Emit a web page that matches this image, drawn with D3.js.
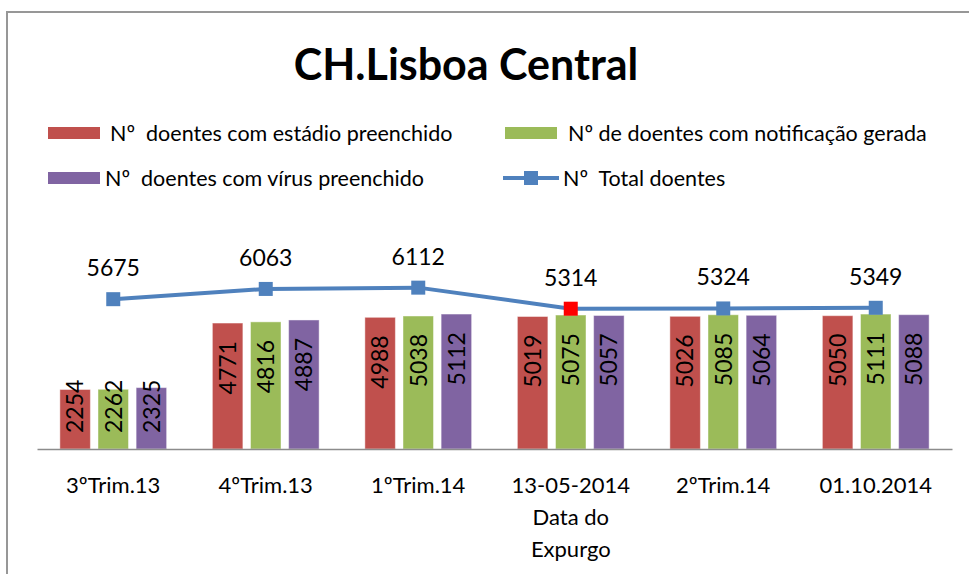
<!DOCTYPE html>
<html>
<head>
<meta charset="utf-8">
<script src="https://cdn.jsdelivr.net/npm/d3@7"></script>
<style>
	body { margin: 0; background: #fff; }
	svg text { font-family: Lato, "Liberation Sans", sans-serif; white-space: pre; }
</style>
</head>
<body>
<div id="chart"></div>
<script>
var categories = ["3ºTrim.13", "4ºTrim.13", "1ºTrim.14", "13-05-2014\nData do\nExpurgo", "2ºTrim.14", "01.10.2014"];
var estadio = [2254, 4771, 4988, 5019, 5026, 5050];
var notificacao = [2262, 4816, 5038, 5075, 5085, 5111];
var virus = [2325, 4887, 5112, 5057, 5064, 5088];
var total = [5675, 6063, 6112, 5314, 5324, 5349];
var highlight = "13-05-2014\nData do\nExpurgo";

var seriesNames = ["Nº  doentes com estádio preenchido", "Nº de doentes com notificação gerada", "Nº  doentes com vírus preenchido"];
var lineName = "Nº  Total doentes";
var seriesColors = ["#C0504D", "#9BBB59", "#8064A2"];
var lineColor = "#4F81BD";

var width = 969, height = 574;
var base = 449;

var svg = d3.select("#chart").append("svg")
	.attr("width", width)
	.attr("height", height);

// chart frame (cut off at right and bottom like the original)
svg.append("rect")
	.attr("x", 7)
	.attr("y", 12)
	.attr("width", 1000)
	.attr("height", 700)
	.attr("fill", "none")
	.attr("stroke", "#979797")
	.attr("stroke-width", 2);

svg.append("text")
	.attr("x", 466)
	.attr("y", 80)
	.attr("text-anchor", "middle")
	.style("font-size", "43px")
	.style("font-weight", "bold")
	.text("CH.Lisboa Central");

var x = d3.scaleBand().domain(categories).range([37, 952]);
var x1 = d3.scaleBand().domain([0, 1, 2])
	.range([0, x.bandwidth() * 0.7])
	.paddingInner(0.2);
var groupOffset = x.bandwidth() * 0.15;

var y = d3.scaleLinear().domain([0, 7000]).range([base, base - 7000 * 0.0264]);

var series = [estadio, notificacao, virus];

//bars
var groups = svg.append("g")
	.selectAll("g")
	.data(series)
	.enter().append("g")
	.attr("fill", function(d, i) { return seriesColors[i]; });

groups.each(function(vals, si) {
	d3.select(this).selectAll("rect")
		.data(vals)
		.enter().append("rect")
		.attr("x", function(d, i) { return x(categories[i]) + groupOffset + x1(si); })
		.attr("y", function(d) { return y(d); })
		.attr("width", x1.bandwidth())
		.attr("height", function(d) { return base - y(d); })
		.attr("stroke", "rgba(255,255,255,0.45)")
		.attr("stroke-width", 1);
});

//bar labels
groups.each(function(vals, si) {
	d3.select(this).selectAll("text")
		.data(vals)
		.enter().append("text")
		.attr("fill", "#000")
		.style("font-size", "23px")
		.attr("dy", "0.36em")
		.text(function(d) { return d; })
		.each(function(d, i) {
			var len = this.getComputedTextLength();
			var cx = x(categories[i]) + groupOffset + x1(si) + x1.bandwidth() / 2;
			var bottom = Math.min(y(d) + 18 + len, base - 16);
			d3.select(this).attr("transform", "translate(" + cx + "," + bottom + ") rotate(-90)");
		});
});

//axis
var axis = svg.append("g")
	.attr("transform", "translate(0," + base + ")")
	.call(d3.axisBottom(x).tickSize(0).tickSizeOuter(0).tickFormat(""));
axis.select(".domain")
	.attr("stroke", "#8C8C8C")
	.attr("stroke-width", 1.5);

axis.selectAll(".tick").each(function(d) {
	var t = d3.select(this).append("text")
		.attr("fill", "#000")
		.attr("text-anchor", "middle")
		.style("font-size", "22px");
	d.split("\n").forEach(function(line, i) {
		t.append("tspan")
			.attr("x", 0)
			.attr("y", 44 + i * 32)
			.text(line);
	});
});

//total line
var cxLine = function(d, i) { return x(categories[i]) + x.bandwidth() / 2; };
var line = d3.line()
	.x(cxLine)
	.y(function(d) { return y(d); });

svg.append("path")
	.datum(total)
	.attr("d", line)
	.attr("fill", "none")
	.attr("stroke", lineColor)
	.attr("stroke-width", 4);

svg.append("g")
	.selectAll("rect")
	.data(total)
	.enter().append("rect")
	.attr("x", function(d, i) { return cxLine(d, i) - 7; })
	.attr("y", function(d) { return y(d) - 7; })
	.attr("width", 14)
	.attr("height", 14)
	.attr("fill", function(d, i) { return categories[i] === highlight ? "#FF0000" : lineColor; });

svg.append("g")
	.selectAll("text")
	.data(total)
	.enter().append("text")
	.attr("x", cxLine)
	.attr("y", function(d) { return y(d) - 23; })
	.attr("text-anchor", "middle")
	.style("font-size", "23px")
	.text(function(d) { return d; });

//legend
var legendItems = [
	{ name: seriesNames[0], color: seriesColors[0], x: 48, y: 133, tx: 110 },
	{ name: seriesNames[1], color: seriesColors[1], x: 505, y: 133, tx: 568 },
	{ name: seriesNames[2], color: seriesColors[2], x: 48, y: 178, tx: 105 }
];

var legend = svg.append("g");
legendItems.forEach(function(item) {
	legend.append("rect")
		.attr("x", item.x)
		.attr("y", item.y - 6)
		.attr("width", 52)
		.attr("height", 12)
		.attr("fill", item.color);
	legend.append("text")
		.attr("x", item.tx)
		.attr("y", item.y + 8)
		.style("font-size", "21.5px")
		.text(item.name);
});

legend.append("line")
	.attr("x1", 503).attr("x2", 559)
	.attr("y1", 178).attr("y2", 178)
	.attr("stroke", lineColor)
	.attr("stroke-width", 4);
legend.append("rect")
	.attr("x", 524).attr("y", 171)
	.attr("width", 14).attr("height", 14)
	.attr("fill", lineColor);
legend.append("text")
	.attr("x", 563)
	.attr("y", 186)
	.style("font-size", "21.5px")
	.text(lineName);
</script>
</body>
</html>
